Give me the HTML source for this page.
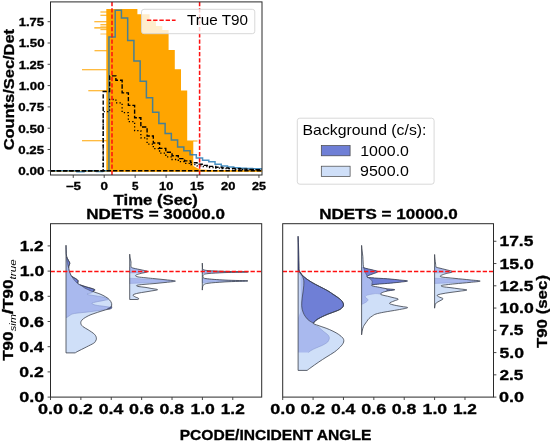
<!DOCTYPE html>
<html><head><meta charset="utf-8"><title>chart</title>
<style>html,body{margin:0;padding:0;background:#fff;}svg{display:block;will-change:transform;}text{font-family:"Liberation Sans",sans-serif;}</style>
</head><body>
<svg width="550" height="443" viewBox="0 0 550 443" font-family="Liberation Sans, sans-serif">
<rect width="550" height="443" fill="#fff"/>
<clipPath id="ctop"><rect x="50.5" y="1.9" width="211.5" height="173.1"/></clipPath>
<g clip-path="url(#ctop)">
<line x1="100.4" y1="12" x2="107" y2="12" stroke="#ffa500" stroke-width="1.1" opacity="1"/>
<line x1="100.4" y1="15.2" x2="107" y2="15.2" stroke="#ffa500" stroke-width="1.1" opacity="1"/>
<line x1="94.3" y1="21.8" x2="107" y2="21.8" stroke="#ffa500" stroke-width="1.1" opacity="1"/>
<line x1="100.4" y1="24.6" x2="107" y2="24.6" stroke="#ffa500" stroke-width="1.1" opacity="0.8"/>
<line x1="100.4" y1="26.2" x2="107" y2="26.2" stroke="#ffa500" stroke-width="1.1" opacity="0.6"/>
<line x1="94.3" y1="27.9" x2="107" y2="27.9" stroke="#ffa500" stroke-width="1.1" opacity="1"/>
<line x1="100.4" y1="29.6" x2="107" y2="29.6" stroke="#ffa500" stroke-width="1.1" opacity="0.8"/>
<line x1="100.4" y1="34" x2="107" y2="34" stroke="#ffa500" stroke-width="1.1" opacity="0.6"/>
<line x1="94.5" y1="50.8" x2="107" y2="50.8" stroke="#ffa500" stroke-width="1.1" opacity="1"/>
<line x1="82" y1="69.8" x2="107" y2="69.8" stroke="#ffa500" stroke-width="1.1" opacity="1"/>
<line x1="88.3" y1="90.8" x2="107" y2="90.8" stroke="#ffa500" stroke-width="1.1" opacity="1"/>
<line x1="82" y1="140.8" x2="107" y2="140.8" stroke="#ffa500" stroke-width="1.1" opacity="1"/>
<polygon fill="#ffa500" points="106.3,170.8 106.3,9.0 137.4,9.0 137.4,14.2 149.6,14.2 149.6,20.4 156.0,20.4 156.0,26.0 162.3,26.0 162.3,30.0 168.6,30.0 168.6,50.0 174.8,50.0 174.8,69.2 181.0,69.2 181.0,90.5 187.2,90.5 187.2,140.6 193.3,140.6 193.3,166.0 200.0,169.6 215.0,170.2 262.0,170.4 262.0,171.4 106.3,171.4"/>
<line x1="193" y1="141" x2="197.5" y2="141" stroke="#ffa500" stroke-width="1"/>
<line x1="50.5" y1="171.10000000000002" x2="262.0" y2="171.10000000000002" stroke="#ffa500" stroke-width="1.2"/>
<path d="M50.5,170.8 L77,170.8 L77,171.7 L84,171.7 L84,170.8 L96.5,170.8 L96.5,171.5 L102.6,171.5 L102.6,170.8 L108.95,170.8 L108.95,37.1 L115.19,37.1 L115.19,10.2 L121.43,10.2 L121.43,18.1 L127.67,18.1 L127.67,40.4 L133.91,40.4 L133.91,60.9 L140.15,60.9 L140.15,81.3 L146.39,81.3 L146.39,97.7 L152.63,97.7 L152.63,112.3 L158.87,112.3 L158.87,123.4 L165.11,123.4 L165.11,133.4 L171.35,133.4 L171.35,140 L177.59,140 L177.59,147.1 L183.83,147.1 L183.83,150.7 L190.07,150.7 L190.07,154.7 L196.31,154.7 L196.31,158 L202.55,158 L202.55,160.2 L208.79,160.2 L208.79,161.8 L215.03,161.8 L215.03,164.2 L221.27,164.2 L221.27,166 L227.51,166 L227.51,167 L233.75,167 L233.75,167.8 L239.99,167.8 L239.99,168.3 L246.23,168.3 L246.23,168.6 L252.47,168.6 L252.47,168.7 L258.71,168.7 L258.71,168.7 L264.95,168.7" fill="none" stroke="#1f77b4" stroke-opacity="0.82" stroke-width="1.5" stroke-linejoin="miter"/>
<path d="M50.5,170.8 L103.2,170.8 L103.20,91.5 L109.65,91.5 L109.65,75.9 L115.89,75.9 L115.89,80.3 L122.13,80.3 L122.13,92.9 L128.37,92.9 L128.37,105.4 L134.61,105.4 L134.61,117.7 L140.85,117.7 L140.85,127 L147.09,127 L147.09,136 L153.33,136 L153.33,143 L159.57,143 L159.57,148.4 L165.81,148.4 L165.81,152.3 L172.05,152.3 L172.05,155.8 L178.29,155.8 L178.29,158.6 L184.53,158.6 L184.53,160.9 L190.77,160.9 L190.77,162.7 L197.01,162.7 L197.01,164.2 L203.25,164.2 L203.25,165.4 L209.49,165.4 L209.49,166.4 L215.73,166.4 L215.73,167.2 L221.97,167.2 L221.97,167.9 L228.21,167.9 L228.21,168.4 L234.45,168.4 L234.45,168.8 L240.69,168.8 L240.69,169.1 L246.93,169.1 L246.93,169.4 L253.17,169.4 L253.17,169.6 L259.41,169.6 L259.41,169.8 L265.65,169.8" fill="none" stroke="#000" stroke-width="1.4" stroke-dasharray="4.35,1.9" />
<path d="M103.2,170.8 L103.20,111.7 L109.65,111.7 L109.65,99.5 L115.89,99.5 L115.89,102.9 L122.13,102.9 L122.13,112.6 L128.37,112.6 L128.37,121.7 L134.61,121.7 L134.61,130.7 L140.85,130.7 L140.85,137.9 L147.09,137.9 L147.09,144.2 L153.33,144.2 L153.33,148.7 L159.57,148.7 L159.57,153.2 L165.81,153.2 L165.81,156.9 L172.05,156.9 L172.05,159.5 L178.29,159.5 L178.29,161.6 L184.53,161.6 L184.53,163.3 L190.77,163.3 L190.77,164.7 L197.01,164.7 L197.01,165.8 L203.25,165.8 L203.25,166.7 L209.49,166.7 L209.49,167.5 L215.73,167.5 L215.73,168.1 L221.97,168.1 L221.97,168.5 L228.21,168.5 L228.21,168.9 L234.45,168.9 L234.45,169.3 L240.69,169.3 L240.69,169.5 L246.93,169.5 L246.93,169.87 L253.17,169.87 L253.17,169.9 L259.41,169.9 L259.41,170 L265.65,170" fill="none" stroke="#000" stroke-width="1.3" stroke-dasharray="1.3,2.2" />
<line x1="50.5" y1="170.8" x2="262.0" y2="170.8" stroke="#000" stroke-width="1.4" stroke-dasharray="4.35,1.9"/>
<line x1="112.0" y1="1.9" x2="112.0" y2="175.0" stroke="#ff1010" stroke-width="1.55" stroke-dasharray="4.35,1.9"/>
<line x1="199.6" y1="1.9" x2="199.6" y2="175.0" stroke="#ff1010" stroke-width="1.55" stroke-dasharray="4.35,1.9"/>
</g>
<rect x="141.5" y="9.3" width="113.3" height="24.4" rx="2.5" fill="#fff" fill-opacity="0.8" stroke="#d4d4d4" stroke-width="0.9"/>
<line x1="146.9" y1="20.3" x2="175.6" y2="20.3" stroke="#ff1010" stroke-width="1.4" stroke-dasharray="4.35,1.9"/>
<text x="186.92" y="24.90" font-size="14.1" fill="#000" textLength="61.05" lengthAdjust="spacingAndGlyphs">True T90</text>
<rect x="50.5" y="1.9" width="211.5" height="173.1" fill="none" stroke="#2a2a2a" stroke-width="1"/>
<line x1="73.25" y1="175.0" x2="73.25" y2="177.9" stroke="#333" stroke-width="0.9"/>
<text x="65.66" y="189.50" font-size="10.6" font-weight="bold" stroke="#000" stroke-width="0.3" fill="#000" textLength="15.33" lengthAdjust="spacingAndGlyphs">−5</text>
<line x1="104.20" y1="175.0" x2="104.20" y2="177.9" stroke="#333" stroke-width="0.9"/>
<text x="100.48" y="189.50" font-size="10.6" font-weight="bold" stroke="#000" stroke-width="0.3" fill="#000" textLength="7.45" lengthAdjust="spacingAndGlyphs">0</text>
<line x1="135.15" y1="175.0" x2="135.15" y2="177.9" stroke="#333" stroke-width="0.9"/>
<text x="131.90" y="189.50" font-size="10.6" font-weight="bold" stroke="#000" stroke-width="0.3" fill="#000" textLength="6.52" lengthAdjust="spacingAndGlyphs">5</text>
<line x1="166.10" y1="175.0" x2="166.10" y2="177.9" stroke="#333" stroke-width="0.9"/>
<text x="159.11" y="189.50" font-size="10.6" font-weight="bold" stroke="#000" stroke-width="0.3" fill="#000" textLength="14.39" lengthAdjust="spacingAndGlyphs">10</text>
<line x1="197.05" y1="175.0" x2="197.05" y2="177.9" stroke="#333" stroke-width="0.9"/>
<text x="190.08" y="189.50" font-size="10.6" font-weight="bold" stroke="#000" stroke-width="0.3" fill="#000" textLength="13.96" lengthAdjust="spacingAndGlyphs">15</text>
<line x1="228.00" y1="175.0" x2="228.00" y2="177.9" stroke="#333" stroke-width="0.9"/>
<text x="221.02" y="189.50" font-size="10.6" font-weight="bold" stroke="#000" stroke-width="0.3" fill="#000" textLength="14.38" lengthAdjust="spacingAndGlyphs">20</text>
<line x1="258.95" y1="175.0" x2="258.95" y2="177.9" stroke="#333" stroke-width="0.9"/>
<text x="251.98" y="189.50" font-size="10.6" font-weight="bold" stroke="#000" stroke-width="0.3" fill="#000" textLength="13.96" lengthAdjust="spacingAndGlyphs">25</text>
<line x1="47.6" y1="170.80" x2="50.5" y2="170.80" stroke="#333" stroke-width="0.9"/>
<text x="18.31" y="175.10" font-size="10.6" font-weight="bold" stroke="#000" stroke-width="0.3" fill="#000" textLength="26.25" lengthAdjust="spacingAndGlyphs">0.00</text>
<line x1="47.6" y1="149.50" x2="50.5" y2="149.50" stroke="#333" stroke-width="0.9"/>
<text x="18.32" y="153.80" font-size="10.6" font-weight="bold" stroke="#000" stroke-width="0.3" fill="#000" textLength="25.82" lengthAdjust="spacingAndGlyphs">0.25</text>
<line x1="47.6" y1="128.20" x2="50.5" y2="128.20" stroke="#333" stroke-width="0.9"/>
<text x="18.31" y="132.50" font-size="10.6" font-weight="bold" stroke="#000" stroke-width="0.3" fill="#000" textLength="26.25" lengthAdjust="spacingAndGlyphs">0.50</text>
<line x1="47.6" y1="106.90" x2="50.5" y2="106.90" stroke="#333" stroke-width="0.9"/>
<text x="18.32" y="111.20" font-size="10.6" font-weight="bold" stroke="#000" stroke-width="0.3" fill="#000" textLength="25.82" lengthAdjust="spacingAndGlyphs">0.75</text>
<line x1="47.6" y1="85.60" x2="50.5" y2="85.60" stroke="#333" stroke-width="0.9"/>
<text x="18.71" y="89.90" font-size="10.6" font-weight="bold" stroke="#000" stroke-width="0.3" fill="#000" textLength="25.84" lengthAdjust="spacingAndGlyphs">1.00</text>
<line x1="47.6" y1="64.30" x2="50.5" y2="64.30" stroke="#333" stroke-width="0.9"/>
<text x="18.72" y="68.60" font-size="10.6" font-weight="bold" stroke="#000" stroke-width="0.3" fill="#000" textLength="25.41" lengthAdjust="spacingAndGlyphs">1.25</text>
<line x1="47.6" y1="43.00" x2="50.5" y2="43.00" stroke="#333" stroke-width="0.9"/>
<text x="18.71" y="47.30" font-size="10.6" font-weight="bold" stroke="#000" stroke-width="0.3" fill="#000" textLength="25.84" lengthAdjust="spacingAndGlyphs">1.50</text>
<line x1="47.6" y1="21.70" x2="50.5" y2="21.70" stroke="#333" stroke-width="0.9"/>
<text x="18.72" y="26.00" font-size="10.6" font-weight="bold" stroke="#000" stroke-width="0.3" fill="#000" textLength="25.41" lengthAdjust="spacingAndGlyphs">1.75</text>
<text x="113.57" y="204.60" font-size="14.1" font-weight="bold" stroke="#000" stroke-width="0.3" fill="#000" textLength="84.37" lengthAdjust="spacingAndGlyphs">Time (Sec)</text>
<text x="-60.77" y="0.00" font-size="14.1" font-weight="bold" stroke="#000" stroke-width="0.3" fill="#000" textLength="121.46" lengthAdjust="spacingAndGlyphs" transform="translate(13.70 89.60) rotate(-90)">Counts/Sec/Det</text>
<rect x="297.3" y="118.2" width="136.8" height="66" rx="2.5" fill="#fff" stroke="#d4d4d4" stroke-width="0.9"/>
<text x="302.57" y="134.70" font-size="14.1" fill="#000" textLength="123.90" lengthAdjust="spacingAndGlyphs">Background (c/s):</text>
<rect x="321.3" y="145.6" width="28.8" height="10.2" fill="#6f7fd6" stroke="#444" stroke-width="0.7"/>
<rect x="321.3" y="166.2" width="28.8" height="10.2" fill="#cfdff8" stroke="#444" stroke-width="0.7"/>
<text x="360.26" y="155.80" font-size="14.1" fill="#000" textLength="48.66" lengthAdjust="spacingAndGlyphs">1000.0</text>
<text x="360.02" y="176.40" font-size="14.1" fill="#000" textLength="48.90" lengthAdjust="spacingAndGlyphs">9500.0</text>
<clipPath id="cl"><rect x="50.5" y="223.7" width="211.2" height="173.40000000000003"/></clipPath>
<g clip-path="url(#cl)">
<path d="M66.00,245.20 C66.04,246.24 66.09,249.04 66.20,251.00 C66.31,252.96 66.17,254.35 66.60,256.10 C67.03,257.85 68.01,259.42 68.60,260.70 C69.19,261.98 69.83,262.21 69.87,263.20 C69.91,264.19 68.94,264.92 68.80,266.20 C68.66,267.48 68.85,269.00 69.10,270.30 C69.35,271.60 69.73,272.30 70.20,273.40 C70.67,274.50 70.80,275.50 71.70,276.40 C72.60,277.30 74.08,277.66 75.20,278.40 C76.32,279.14 77.47,279.67 77.90,280.50 C78.33,281.33 77.17,282.19 77.60,283.00 C78.03,283.81 78.72,284.28 80.30,285.00 C81.88,285.72 84.02,286.26 86.40,287.00 C88.78,287.74 92.02,288.54 93.50,289.10 C94.98,289.66 94.69,289.69 94.60,290.10 C94.51,290.51 92.03,290.70 93.00,291.40 C93.97,292.10 97.73,293.03 100.00,294.00 C102.27,294.97 103.89,295.76 105.60,296.80 C107.31,297.84 108.42,298.61 109.50,299.80 C110.58,300.99 111.28,302.19 111.60,303.40 C111.92,304.61 111.68,305.56 111.30,306.50 C110.92,307.44 110.81,307.92 109.50,308.60 C108.19,309.28 106.12,309.63 104.00,310.30 C101.88,310.97 100.04,311.53 97.70,312.30 C95.36,313.07 93.14,313.72 91.00,314.60 C88.86,315.48 87.42,316.23 85.80,317.20 C84.18,318.17 82.90,318.92 82.00,320.00 C81.10,321.08 80.66,322.03 80.80,323.20 C80.94,324.37 81.47,325.31 82.80,326.50 C84.13,327.69 86.09,328.40 88.20,329.80 C90.31,331.20 93.02,332.79 94.50,334.30 C95.98,335.81 96.20,336.99 96.40,338.20 C96.60,339.41 96.09,340.10 95.60,341.00 C95.11,341.90 95.32,342.14 93.70,343.20 C92.08,344.26 89.59,345.37 86.60,346.90 C83.61,348.43 79.13,350.62 77.10,351.70 C75.07,352.78 75.62,352.68 75.30,352.90 L66.0,352.90 L66.0,245.20 Z" fill="#cfdff8"/>
<path d="M66.00,246.00 C66.04,247.08 66.11,249.93 66.20,252.00 C66.29,254.07 66.30,255.70 66.50,257.50 C66.70,259.30 66.99,260.47 67.30,262.00 C67.61,263.53 67.88,264.51 68.20,266.00 C68.52,267.49 68.74,268.97 69.10,270.30 C69.46,271.63 69.73,272.30 70.20,273.40 C70.67,274.50 71.02,275.28 71.70,276.40 C72.38,277.52 73.01,278.41 74.00,279.60 C74.99,280.79 76.07,282.03 77.20,283.00 C78.33,283.97 78.90,284.10 80.30,285.00 C81.70,285.90 83.25,287.05 85.00,288.00 C86.75,288.95 88.56,289.65 90.00,290.30 C91.44,290.95 92.82,291.11 93.00,291.60 C93.18,292.09 92.08,292.53 91.00,293.00 C89.92,293.47 86.82,293.79 87.00,294.20 C87.18,294.61 89.66,294.89 92.00,295.30 C94.34,295.71 97.66,296.07 100.00,296.50 C102.34,296.93 103.51,297.20 105.00,297.70 C106.49,298.20 108.48,298.81 108.30,299.30 C108.12,299.79 106.39,299.88 104.00,300.40 C101.61,300.92 97.16,301.62 95.00,302.20 C92.84,302.78 91.82,303.06 92.00,303.60 C92.18,304.14 93.84,304.71 96.00,305.20 C98.16,305.69 101.39,305.90 104.00,306.30 C106.61,306.70 109.28,307.04 110.50,307.40 C111.72,307.76 111.97,307.87 110.80,308.30 C109.63,308.73 106.66,309.33 104.00,309.80 C101.34,310.27 98.88,310.50 96.00,310.90 C93.12,311.30 90.88,311.66 88.00,312.00 C85.12,312.34 82.70,312.48 80.00,312.80 C77.30,313.12 74.80,313.35 73.00,313.80 C71.20,314.25 70.99,314.72 70.00,315.30 C69.01,315.88 68.22,316.59 67.50,317.00 C66.78,317.41 66.27,317.49 66.00,317.60 L66.0,317.60 L66.0,246.00 Z" fill="#a9b9ee"/>
<path d="M66.00,246.00 C66.04,247.08 66.11,249.93 66.20,252.00 C66.29,254.07 66.30,255.70 66.50,257.50 C66.70,259.30 66.99,260.47 67.30,262.00 C67.61,263.53 67.88,264.51 68.20,266.00 C68.52,267.49 68.74,268.97 69.10,270.30 C69.46,271.63 69.73,272.30 70.20,273.40 C70.67,274.50 71.02,275.28 71.70,276.40 C72.38,277.52 73.01,278.41 74.00,279.60 C74.99,280.79 76.07,282.03 77.20,283.00 C78.33,283.97 78.90,284.10 80.30,285.00 C81.70,285.90 83.25,287.05 85.00,288.00 C86.75,288.95 88.56,289.65 90.00,290.30 C91.44,290.95 92.82,291.11 93.00,291.60 C93.18,292.09 92.08,292.53 91.00,293.00 C89.92,293.47 86.82,293.79 87.00,294.20 C87.18,294.61 89.66,294.89 92.00,295.30 C94.34,295.71 97.66,296.07 100.00,296.50 C102.34,296.93 103.51,297.20 105.00,297.70 C106.49,298.20 108.48,298.81 108.30,299.30 C108.12,299.79 106.39,299.88 104.00,300.40 C101.61,300.92 97.16,301.62 95.00,302.20 C92.84,302.78 91.82,303.06 92.00,303.60 C92.18,304.14 93.84,304.71 96.00,305.20 C98.16,305.69 101.39,305.90 104.00,306.30 C106.61,306.70 109.28,307.04 110.50,307.40 C111.72,307.76 111.97,307.87 110.80,308.30 C109.63,308.73 106.66,309.33 104.00,309.80 C101.34,310.27 98.88,310.50 96.00,310.90 C93.12,311.30 90.88,311.66 88.00,312.00 C85.12,312.34 82.70,312.48 80.00,312.80 C77.30,313.12 74.80,313.35 73.00,313.80 C71.20,314.25 70.99,314.72 70.00,315.30 C69.01,315.88 68.22,316.59 67.50,317.00 C66.78,317.41 66.27,317.49 66.00,317.60" fill="none" stroke="#7f8fc8" stroke-width="0.5" stroke-linejoin="round"/>
<path d="M66.50,257.00 C66.88,257.63 68.01,259.38 68.60,260.50 C69.19,261.62 69.75,262.17 69.80,263.20 C69.85,264.23 69.13,265.43 68.90,266.20 C68.67,266.97 68.77,268.17 68.50,267.50 C68.23,266.83 67.60,263.40 67.40,262.50 Z" fill="#6f7fd6" stroke="#3a3f4a" stroke-width="0.5" stroke-linejoin="round"/>
<path d="M71.70,276.20 C72.33,276.56 74.05,277.43 75.20,278.20 C76.35,278.97 77.67,279.60 78.10,280.50 C78.53,281.40 78.34,283.33 77.60,283.20 C76.86,283.07 74.65,280.41 74.00,279.80 Z" fill="#6f7fd6" stroke="#3a3f4a" stroke-width="0.5" stroke-linejoin="round"/>
<path d="M80.30,284.80 C81.40,285.16 84.02,286.06 86.40,286.80 C88.78,287.54 91.97,288.31 93.50,288.90 C95.03,289.49 94.99,289.61 94.90,290.10 C94.81,290.59 93.88,291.53 93.00,291.60 C92.12,291.67 91.44,291.11 90.00,290.50 C88.56,289.89 85.90,288.61 85.00,288.20 Z" fill="#6f7fd6" stroke="#3a3f4a" stroke-width="0.5" stroke-linejoin="round"/>
<path d="M107.50,308.80 C108.22,308.37 110.80,306.45 111.50,306.40 C112.20,306.35 111.80,308.00 111.40,308.50 C111.00,309.00 109.68,309.07 109.30,309.20 Z" fill="#6f7fd6" stroke="#3a3f4a" stroke-width="0.5" stroke-linejoin="round"/>
<path d="M66.00,245.20 C66.04,246.24 66.09,249.04 66.20,251.00 C66.31,252.96 66.17,254.35 66.60,256.10 C67.03,257.85 68.01,259.42 68.60,260.70 C69.19,261.98 69.83,262.21 69.87,263.20 C69.91,264.19 68.94,264.92 68.80,266.20 C68.66,267.48 68.85,269.00 69.10,270.30 C69.35,271.60 69.73,272.30 70.20,273.40 C70.67,274.50 70.80,275.50 71.70,276.40 C72.60,277.30 74.08,277.66 75.20,278.40 C76.32,279.14 77.47,279.67 77.90,280.50 C78.33,281.33 77.17,282.19 77.60,283.00 C78.03,283.81 78.72,284.28 80.30,285.00 C81.88,285.72 84.02,286.26 86.40,287.00 C88.78,287.74 92.02,288.54 93.50,289.10 C94.98,289.66 94.69,289.69 94.60,290.10 C94.51,290.51 92.03,290.70 93.00,291.40 C93.97,292.10 97.73,293.03 100.00,294.00 C102.27,294.97 103.89,295.76 105.60,296.80 C107.31,297.84 108.42,298.61 109.50,299.80 C110.58,300.99 111.28,302.19 111.60,303.40 C111.92,304.61 111.68,305.56 111.30,306.50 C110.92,307.44 110.81,307.92 109.50,308.60 C108.19,309.28 106.12,309.63 104.00,310.30 C101.88,310.97 100.04,311.53 97.70,312.30 C95.36,313.07 93.14,313.72 91.00,314.60 C88.86,315.48 87.42,316.23 85.80,317.20 C84.18,318.17 82.90,318.92 82.00,320.00 C81.10,321.08 80.66,322.03 80.80,323.20 C80.94,324.37 81.47,325.31 82.80,326.50 C84.13,327.69 86.09,328.40 88.20,329.80 C90.31,331.20 93.02,332.79 94.50,334.30 C95.98,335.81 96.20,336.99 96.40,338.20 C96.60,339.41 96.09,340.10 95.60,341.00 C95.11,341.90 95.32,342.14 93.70,343.20 C92.08,344.26 89.59,345.37 86.60,346.90 C83.61,348.43 79.13,350.62 77.10,351.70 C75.07,352.78 75.62,352.68 75.30,352.90 L66.0,352.9 L66.0,245.2" fill="none" stroke="#3a3f4a" stroke-width="0.8"/>
<path d="M129.70,254.20 C129.77,254.88 129.87,256.60 130.10,258.00 C130.33,259.40 130.86,260.74 131.00,262.00 C131.14,263.26 130.85,264.06 130.90,265.00 C130.95,265.94 130.74,266.61 131.30,267.20 C131.86,267.79 132.25,267.83 134.00,268.30 C135.75,268.77 138.50,269.21 141.00,269.80 C143.50,270.39 147.90,270.95 147.90,271.60 C147.90,272.25 142.96,272.86 141.00,273.40 C139.04,273.94 137.97,274.17 137.00,274.60 C136.03,275.03 135.42,275.39 135.60,275.80 C135.78,276.21 136.13,276.54 138.00,276.90 C139.87,277.26 142.94,277.48 146.00,277.80 C149.06,278.12 151.40,278.34 155.00,278.70 C158.60,279.06 162.33,279.37 166.00,279.80 C169.67,280.23 175.40,280.63 175.40,281.10 C175.40,281.57 169.67,281.97 166.00,282.40 C162.33,282.83 158.78,283.16 155.00,283.50 C151.22,283.84 147.97,284.03 145.00,284.30 C142.03,284.57 140.01,284.73 138.50,285.00 C136.99,285.27 136.51,285.51 136.60,285.80 C136.69,286.09 137.49,286.33 139.00,286.60 C140.51,286.87 142.84,286.98 145.00,287.30 C147.16,287.62 148.73,287.97 151.00,288.40 C153.27,288.83 157.60,289.23 157.60,289.70 C157.60,290.17 153.27,290.59 151.00,291.00 C148.73,291.41 147.34,291.60 145.00,292.00 C142.66,292.40 140.12,292.70 138.00,293.20 C135.88,293.70 133.83,294.21 133.20,294.80 C132.57,295.39 133.51,295.83 134.50,296.50 C135.49,297.17 138.11,297.96 138.70,298.50 C139.29,299.04 137.96,299.32 137.80,299.50 L129.7,299.50 L129.7,254.20 Z" fill="#cfdff8"/>
<clipPath id="vc1"><path d="M129.70,254.20 C129.77,254.88 129.87,256.60 130.10,258.00 C130.33,259.40 130.86,260.74 131.00,262.00 C131.14,263.26 130.85,264.06 130.90,265.00 C130.95,265.94 130.74,266.61 131.30,267.20 C131.86,267.79 132.25,267.83 134.00,268.30 C135.75,268.77 138.50,269.21 141.00,269.80 C143.50,270.39 147.90,270.95 147.90,271.60 C147.90,272.25 142.96,272.86 141.00,273.40 C139.04,273.94 137.97,274.17 137.00,274.60 C136.03,275.03 135.42,275.39 135.60,275.80 C135.78,276.21 136.13,276.54 138.00,276.90 C139.87,277.26 142.94,277.48 146.00,277.80 C149.06,278.12 151.40,278.34 155.00,278.70 C158.60,279.06 162.33,279.37 166.00,279.80 C169.67,280.23 175.40,280.63 175.40,281.10 C175.40,281.57 169.67,281.97 166.00,282.40 C162.33,282.83 158.78,283.16 155.00,283.50 C151.22,283.84 147.97,284.03 145.00,284.30 C142.03,284.57 140.01,284.73 138.50,285.00 C136.99,285.27 136.51,285.51 136.60,285.80 C136.69,286.09 137.49,286.33 139.00,286.60 C140.51,286.87 142.84,286.98 145.00,287.30 C147.16,287.62 148.73,287.97 151.00,288.40 C153.27,288.83 157.60,289.23 157.60,289.70 C157.60,290.17 153.27,290.59 151.00,291.00 C148.73,291.41 147.34,291.60 145.00,292.00 C142.66,292.40 140.12,292.70 138.00,293.20 C135.88,293.70 133.83,294.21 133.20,294.80 C132.57,295.39 133.51,295.83 134.50,296.50 C135.49,297.17 138.11,297.96 138.70,298.50 C139.29,299.04 137.96,299.32 137.80,299.50 L129.7,299.50 L129.7,254.20 Z"/></clipPath>
<g clip-path="url(#vc1)">
<path d="M128.7,267.4 L189.7,268.59999999999997 L189.7,271.7 L128.7,272.9 Z" fill="#a9b9ee" stroke="#8c9bd6" stroke-width="0.5"/>
<path d="M128.7,278.2 L176,280.6 L176,281.6 L128.7,283.5 Z" fill="#a9b9ee" stroke="#8c9bd6" stroke-width="0.5"/>
</g>
<path d="M129.70,254.20 C129.77,254.88 129.87,256.60 130.10,258.00 C130.33,259.40 130.86,260.74 131.00,262.00 C131.14,263.26 130.85,264.06 130.90,265.00 C130.95,265.94 130.74,266.61 131.30,267.20 C131.86,267.79 132.25,267.83 134.00,268.30 C135.75,268.77 138.50,269.21 141.00,269.80 C143.50,270.39 147.90,270.95 147.90,271.60 C147.90,272.25 142.96,272.86 141.00,273.40 C139.04,273.94 137.97,274.17 137.00,274.60 C136.03,275.03 135.42,275.39 135.60,275.80 C135.78,276.21 136.13,276.54 138.00,276.90 C139.87,277.26 142.94,277.48 146.00,277.80 C149.06,278.12 151.40,278.34 155.00,278.70 C158.60,279.06 162.33,279.37 166.00,279.80 C169.67,280.23 175.40,280.63 175.40,281.10 C175.40,281.57 169.67,281.97 166.00,282.40 C162.33,282.83 158.78,283.16 155.00,283.50 C151.22,283.84 147.97,284.03 145.00,284.30 C142.03,284.57 140.01,284.73 138.50,285.00 C136.99,285.27 136.51,285.51 136.60,285.80 C136.69,286.09 137.49,286.33 139.00,286.60 C140.51,286.87 142.84,286.98 145.00,287.30 C147.16,287.62 148.73,287.97 151.00,288.40 C153.27,288.83 157.60,289.23 157.60,289.70 C157.60,290.17 153.27,290.59 151.00,291.00 C148.73,291.41 147.34,291.60 145.00,292.00 C142.66,292.40 140.12,292.70 138.00,293.20 C135.88,293.70 133.83,294.21 133.20,294.80 C132.57,295.39 133.51,295.83 134.50,296.50 C135.49,297.17 138.11,297.96 138.70,298.50 C139.29,299.04 137.96,299.32 137.80,299.50 L129.7,299.5 L129.7,254.2" fill="none" stroke="#3a3f4a" stroke-width="0.8"/>
<path d="M202.30,263.10 C202.34,263.80 202.37,265.90 202.50,267.00 C202.63,268.10 202.01,268.55 203.00,269.20 C203.99,269.85 204.04,270.20 208.00,270.60 C211.96,271.00 217.75,271.17 225.00,271.40 C232.25,271.63 248.30,271.68 248.30,271.90 C248.30,272.12 232.25,272.29 225.00,272.60 C217.75,272.91 211.89,273.17 208.00,273.60 C204.11,274.03 204.26,274.39 203.40,275.00 C202.54,275.61 202.73,276.35 203.20,277.00 C203.67,277.65 202.08,278.04 206.00,278.60 C209.92,279.16 217.44,279.69 225.00,280.10 C232.56,280.51 248.00,280.58 248.00,280.90 C248.00,281.22 232.20,281.47 225.00,281.90 C217.80,282.33 211.85,282.74 208.00,283.30 C204.15,283.86 204.57,284.33 203.60,285.00 C202.63,285.67 202.83,286.08 202.60,287.00 C202.37,287.92 202.35,289.54 202.30,290.10 L202.3,290.10 L202.3,263.10 Z" fill="#cfdff8"/>
<path d="M202.30,269.60 C203.33,269.82 203.91,270.46 208.00,270.80 C212.09,271.14 217.89,271.30 225.00,271.50 C232.11,271.70 247.50,271.74 247.50,271.90 C247.50,272.06 232.11,272.20 225.00,272.40 C217.89,272.60 212.09,272.78 208.00,273.00 C203.91,273.22 203.33,273.49 202.30,273.60 L202.3,273.6 L202.3,269.6 Z" fill="#a9b9ee" stroke="#7f8fc8" stroke-width="0.4"/>
<path d="M202.30,278.40 C203.33,278.54 203.91,278.88 208.00,279.20 C212.09,279.52 217.98,279.89 225.00,280.20 C232.02,280.51 247.00,280.67 247.00,280.90 C247.00,281.13 232.02,281.27 225.00,281.50 C217.98,281.73 212.09,281.97 208.00,282.20 C203.91,282.43 203.33,282.69 202.30,282.80 L202.3,282.8 L202.3,278.4 Z" fill="#a9b9ee" stroke="#7f8fc8" stroke-width="0.4"/>
<path d="M202.30,263.10 C202.34,263.80 202.37,265.90 202.50,267.00 C202.63,268.10 202.01,268.55 203.00,269.20 C203.99,269.85 204.04,270.20 208.00,270.60 C211.96,271.00 217.75,271.17 225.00,271.40 C232.25,271.63 248.30,271.68 248.30,271.90 C248.30,272.12 232.25,272.29 225.00,272.60 C217.75,272.91 211.89,273.17 208.00,273.60 C204.11,274.03 204.26,274.39 203.40,275.00 C202.54,275.61 202.73,276.35 203.20,277.00 C203.67,277.65 202.08,278.04 206.00,278.60 C209.92,279.16 217.44,279.69 225.00,280.10 C232.56,280.51 248.00,280.58 248.00,280.90 C248.00,281.22 232.20,281.47 225.00,281.90 C217.80,282.33 211.85,282.74 208.00,283.30 C204.15,283.86 204.57,284.33 203.60,285.00 C202.63,285.67 202.83,286.08 202.60,287.00 C202.37,287.92 202.35,289.54 202.30,290.10 L202.3,290.1 L202.3,263.1" fill="none" stroke="#3a3f4a" stroke-width="0.8"/>
<line x1="50.5" y1="271.4" x2="261.7" y2="271.4" stroke="#ff1010" stroke-width="1.55" stroke-dasharray="4.35,1.9"/>
</g>
<rect x="50.5" y="223.7" width="211.2" height="173.40000000000003" fill="none" stroke="#2a2a2a" stroke-width="1"/>
<text x="86.27" y="218.60" font-size="14.1" font-weight="bold" stroke="#000" stroke-width="0.3" fill="#000" textLength="138.62" lengthAdjust="spacingAndGlyphs">NDETS = 30000.0</text>
<line x1="50.50" y1="397.1" x2="50.50" y2="400.0" stroke="#333" stroke-width="0.9"/>
<text x="37.96" y="413.60" font-size="14.1" font-weight="bold" stroke="#000" stroke-width="0.3" fill="#000" textLength="25.06" lengthAdjust="spacingAndGlyphs">0.0</text>
<line x1="80.88" y1="397.1" x2="80.88" y2="400.0" stroke="#333" stroke-width="0.9"/>
<text x="68.36" y="413.60" font-size="14.1" font-weight="bold" stroke="#000" stroke-width="0.3" fill="#000" textLength="24.50" lengthAdjust="spacingAndGlyphs">0.2</text>
<line x1="111.26" y1="397.1" x2="111.26" y2="400.0" stroke="#333" stroke-width="0.9"/>
<text x="98.74" y="413.60" font-size="14.1" font-weight="bold" stroke="#000" stroke-width="0.3" fill="#000" textLength="24.45" lengthAdjust="spacingAndGlyphs">0.4</text>
<line x1="141.64" y1="397.1" x2="141.64" y2="400.0" stroke="#333" stroke-width="0.9"/>
<text x="129.10" y="413.60" font-size="14.1" font-weight="bold" stroke="#000" stroke-width="0.3" fill="#000" textLength="24.89" lengthAdjust="spacingAndGlyphs">0.6</text>
<line x1="172.02" y1="397.1" x2="172.02" y2="400.0" stroke="#333" stroke-width="0.9"/>
<text x="159.49" y="413.60" font-size="14.1" font-weight="bold" stroke="#000" stroke-width="0.3" fill="#000" textLength="24.65" lengthAdjust="spacingAndGlyphs">0.8</text>
<line x1="202.40" y1="397.1" x2="202.40" y2="400.0" stroke="#333" stroke-width="0.9"/>
<text x="190.40" y="413.60" font-size="14.1" font-weight="bold" stroke="#000" stroke-width="0.3" fill="#000" textLength="24.51" lengthAdjust="spacingAndGlyphs">1.0</text>
<line x1="232.78" y1="397.1" x2="232.78" y2="400.0" stroke="#333" stroke-width="0.9"/>
<text x="220.80" y="413.60" font-size="14.1" font-weight="bold" stroke="#000" stroke-width="0.3" fill="#000" textLength="23.94" lengthAdjust="spacingAndGlyphs">1.2</text>
<line x1="47.6" y1="397.10" x2="50.5" y2="397.10" stroke="#333" stroke-width="0.9"/>
<text x="19.17" y="402.10" font-size="14.1" font-weight="bold" stroke="#000" stroke-width="0.3" fill="#000" textLength="25.06" lengthAdjust="spacingAndGlyphs">0.0</text>
<line x1="47.6" y1="371.90" x2="50.5" y2="371.90" stroke="#333" stroke-width="0.9"/>
<text x="19.19" y="376.90" font-size="14.1" font-weight="bold" stroke="#000" stroke-width="0.3" fill="#000" textLength="24.50" lengthAdjust="spacingAndGlyphs">0.2</text>
<line x1="47.6" y1="346.70" x2="50.5" y2="346.70" stroke="#333" stroke-width="0.9"/>
<text x="19.19" y="351.70" font-size="14.1" font-weight="bold" stroke="#000" stroke-width="0.3" fill="#000" textLength="24.45" lengthAdjust="spacingAndGlyphs">0.4</text>
<line x1="47.6" y1="321.50" x2="50.5" y2="321.50" stroke="#333" stroke-width="0.9"/>
<text x="19.18" y="326.50" font-size="14.1" font-weight="bold" stroke="#000" stroke-width="0.3" fill="#000" textLength="24.89" lengthAdjust="spacingAndGlyphs">0.6</text>
<line x1="47.6" y1="296.30" x2="50.5" y2="296.30" stroke="#333" stroke-width="0.9"/>
<text x="19.18" y="301.30" font-size="14.1" font-weight="bold" stroke="#000" stroke-width="0.3" fill="#000" textLength="24.65" lengthAdjust="spacingAndGlyphs">0.8</text>
<line x1="47.6" y1="271.10" x2="50.5" y2="271.10" stroke="#333" stroke-width="0.9"/>
<text x="19.71" y="276.10" font-size="14.1" font-weight="bold" stroke="#000" stroke-width="0.3" fill="#000" textLength="24.51" lengthAdjust="spacingAndGlyphs">1.0</text>
<line x1="47.6" y1="245.90" x2="50.5" y2="245.90" stroke="#333" stroke-width="0.9"/>
<text x="19.73" y="250.90" font-size="14.1" font-weight="bold" stroke="#000" stroke-width="0.3" fill="#000" textLength="23.94" lengthAdjust="spacingAndGlyphs">1.2</text>
<clipPath id="cr"><rect x="282.7" y="223.7" width="210.8" height="173.40000000000003"/></clipPath>
<g clip-path="url(#cr)">
<path d="M298.10,236.30 C298.17,237.87 298.37,241.63 298.50,245.00 C298.63,248.37 298.71,251.40 298.80,255.00 C298.89,258.60 298.86,262.12 299.00,265.00 C299.14,267.88 298.84,269.00 299.60,271.00 C300.36,273.00 300.99,274.05 303.20,276.10 C305.41,278.15 307.63,279.84 311.90,282.40 C316.17,284.96 323.10,288.16 326.90,290.30 C330.70,292.44 330.86,292.88 333.00,294.30 C335.14,295.72 337.13,296.90 338.80,298.20 C340.47,299.50 341.45,300.28 342.30,301.50 C343.15,302.72 343.55,303.87 343.50,305.00 C343.45,306.13 342.85,306.90 342.00,307.80 C341.15,308.70 340.78,309.06 338.80,310.00 C336.82,310.94 333.57,311.99 331.00,313.00 C328.43,314.01 327.02,314.43 324.50,315.60 C321.98,316.77 318.98,318.13 317.00,319.50 C315.02,320.87 313.32,322.14 313.50,323.20 C313.68,324.26 315.73,324.50 318.00,325.40 C320.27,326.30 323.40,327.16 326.10,328.20 C328.80,329.24 330.71,330.07 333.00,331.20 C335.29,332.33 337.04,333.28 338.80,334.50 C340.56,335.72 341.90,336.87 342.80,338.00 C343.70,339.13 343.76,339.81 343.80,340.80 C343.84,341.79 343.63,342.40 343.00,343.50 C342.37,344.60 341.81,345.39 340.30,346.90 C338.79,348.41 337.17,350.03 334.60,351.90 C332.03,353.77 328.84,355.48 326.00,357.30 C323.16,359.12 321.50,360.16 318.80,362.00 C316.10,363.84 313.11,365.99 311.00,367.50 C308.89,369.01 307.80,369.88 307.10,370.40 L298.1,370.40 L298.1,236.30 Z" fill="#cfdff8"/>
<path d="M298.10,271.00 C298.44,271.18 299.08,271.08 300.00,272.00 C300.92,272.92 301.06,274.23 303.20,276.10 C305.34,277.97 307.63,279.84 311.90,282.40 C316.17,284.96 322.06,287.46 326.90,290.30 C331.74,293.14 335.81,295.55 338.80,298.20 C341.79,300.85 343.50,302.88 343.50,305.00 C343.50,307.12 342.22,308.09 338.80,310.00 C335.38,311.91 329.05,313.22 324.50,315.60 C319.95,317.98 314.58,321.15 313.50,323.20 C312.42,325.25 316.79,325.60 318.50,327.00 C320.21,328.40 321.38,329.65 323.00,331.00 C324.62,332.35 326.37,333.35 327.50,334.50 C328.63,335.65 329.07,336.41 329.30,337.40 C329.53,338.39 329.21,339.06 328.80,340.00 C328.39,340.94 328.22,341.61 327.00,342.60 C325.78,343.59 323.98,344.53 322.00,345.50 C320.02,346.47 317.98,347.10 316.00,348.00 C314.02,348.90 312.35,349.69 311.00,350.50 C309.65,351.31 308.95,352.14 308.50,352.50 L298.1,352.50 L298.1,271.00 Z" fill="#a9b9ee"/>
<path d="M298.10,271.00 C298.44,271.18 299.08,271.08 300.00,272.00 C300.92,272.92 301.06,274.23 303.20,276.10 C305.34,277.97 307.63,279.84 311.90,282.40 C316.17,284.96 322.06,287.46 326.90,290.30 C331.74,293.14 335.81,295.55 338.80,298.20 C341.79,300.85 343.50,302.88 343.50,305.00 C343.50,307.12 342.22,308.09 338.80,310.00 C335.38,311.91 329.05,313.22 324.50,315.60 C319.95,317.98 314.58,321.15 313.50,323.20 C312.42,325.25 316.79,325.60 318.50,327.00 C320.21,328.40 321.38,329.65 323.00,331.00 C324.62,332.35 326.37,333.35 327.50,334.50 C328.63,335.65 329.07,336.41 329.30,337.40 C329.53,338.39 329.21,339.06 328.80,340.00 C328.39,340.94 328.22,341.61 327.00,342.60 C325.78,343.59 323.98,344.53 322.00,345.50 C320.02,346.47 317.98,347.10 316.00,348.00 C314.02,348.90 312.35,349.69 311.00,350.50 C309.65,351.31 308.95,352.14 308.50,352.50" fill="none" stroke="#7f8fc8" stroke-width="0.5" stroke-linejoin="round"/>
<path d="M298.1,273 L300.6,276 L300.9,300 L300.4,312 L298.1,318 Z" fill="#cfdff8" opacity="0.8"/>
<path d="M298.60,271.00 C298.94,271.27 299.67,271.58 300.50,272.50 C301.33,273.42 301.15,274.32 303.20,276.10 C305.25,277.88 307.63,279.84 311.90,282.40 C316.17,284.96 323.10,288.16 326.90,290.30 C330.70,292.44 330.86,292.88 333.00,294.30 C335.14,295.72 337.13,296.90 338.80,298.20 C340.47,299.50 341.45,300.28 342.30,301.50 C343.15,302.72 343.55,303.87 343.50,305.00 C343.45,306.13 342.85,306.90 342.00,307.80 C341.15,308.70 340.78,309.06 338.80,310.00 C336.82,310.94 333.57,311.99 331.00,313.00 C328.43,314.01 327.02,314.43 324.50,315.60 C321.98,316.77 318.98,318.13 317.00,319.50 C315.02,320.87 314.13,322.53 313.50,323.20 L313.50,323.20 C312.69,322.71 310.42,321.63 309.00,320.50 C307.58,319.37 306.68,318.43 305.60,316.90 C304.52,315.37 303.70,314.00 303.00,312.00 C302.30,310.00 301.84,308.32 301.70,305.80 C301.56,303.28 301.91,300.84 302.20,298.00 C302.49,295.16 302.99,292.88 303.30,290.00 C303.61,287.12 304.04,284.43 303.90,282.00 C303.76,279.57 303.45,278.48 302.50,276.50 C301.55,274.52 299.30,271.99 298.60,271.00 Z" fill="#6f7fd6" stroke="#3a3f4a" stroke-width="0.7" stroke-linejoin="round"/>
<path d="M298.10,236.30 C298.17,237.87 298.37,241.63 298.50,245.00 C298.63,248.37 298.71,251.40 298.80,255.00 C298.89,258.60 298.86,262.12 299.00,265.00 C299.14,267.88 298.84,269.00 299.60,271.00 C300.36,273.00 300.99,274.05 303.20,276.10 C305.41,278.15 307.63,279.84 311.90,282.40 C316.17,284.96 323.10,288.16 326.90,290.30 C330.70,292.44 330.86,292.88 333.00,294.30 C335.14,295.72 337.13,296.90 338.80,298.20 C340.47,299.50 341.45,300.28 342.30,301.50 C343.15,302.72 343.55,303.87 343.50,305.00 C343.45,306.13 342.85,306.90 342.00,307.80 C341.15,308.70 340.78,309.06 338.80,310.00 C336.82,310.94 333.57,311.99 331.00,313.00 C328.43,314.01 327.02,314.43 324.50,315.60 C321.98,316.77 318.98,318.13 317.00,319.50 C315.02,320.87 313.32,322.14 313.50,323.20 C313.68,324.26 315.73,324.50 318.00,325.40 C320.27,326.30 323.40,327.16 326.10,328.20 C328.80,329.24 330.71,330.07 333.00,331.20 C335.29,332.33 337.04,333.28 338.80,334.50 C340.56,335.72 341.90,336.87 342.80,338.00 C343.70,339.13 343.76,339.81 343.80,340.80 C343.84,341.79 343.63,342.40 343.00,343.50 C342.37,344.60 341.81,345.39 340.30,346.90 C338.79,348.41 337.17,350.03 334.60,351.90 C332.03,353.77 328.84,355.48 326.00,357.30 C323.16,359.12 321.50,360.16 318.80,362.00 C316.10,363.84 313.11,365.99 311.00,367.50 C308.89,369.01 307.80,369.88 307.10,370.40 L298.1,370.4 L298.1,236.3" fill="none" stroke="#3a3f4a" stroke-width="0.8"/>
<path d="M298.1,236.3 L298.5,255 L299,270 L298.1,271 Z" fill="#30386a" stroke="#30386a" stroke-width="0.3"/>
<path d="M361.60,245.40 C361.67,246.23 361.78,248.04 362.00,250.00 C362.22,251.96 362.60,254.14 362.80,256.30 C363.00,258.46 362.99,260.24 363.10,262.00 C363.21,263.76 363.20,265.06 363.40,266.10 C363.60,267.14 363.34,267.30 364.20,267.80 C365.06,268.30 366.56,268.49 368.20,268.90 C369.84,269.31 371.55,269.60 373.30,270.10 C375.05,270.60 377.90,271.05 377.90,271.70 C377.90,272.35 375.05,272.98 373.30,273.70 C371.55,274.42 369.30,275.09 368.20,275.70 C367.10,276.31 366.64,276.72 367.20,277.10 C367.76,277.48 367.65,277.49 371.30,277.80 C374.95,278.11 382.37,278.40 387.50,278.80 C392.63,279.20 396.20,279.60 399.80,280.00 C403.40,280.40 407.50,280.60 407.50,281.00 C407.50,281.40 403.40,281.77 399.80,282.20 C396.20,282.63 391.53,283.04 387.50,283.40 C383.47,283.76 380.14,283.93 377.40,284.20 C374.66,284.47 373.18,284.59 372.30,284.90 C371.42,285.21 371.22,285.47 372.50,285.90 C373.78,286.33 376.88,286.80 379.40,287.30 C381.92,287.80 383.73,288.27 386.50,288.70 C389.27,289.13 394.62,289.29 394.80,289.70 C394.98,290.11 389.71,290.50 387.50,291.00 C385.29,291.50 383.74,291.94 382.50,292.50 C381.26,293.06 380.51,293.61 380.60,294.10 C380.69,294.59 381.76,294.82 383.00,295.20 C384.24,295.58 385.70,295.77 387.50,296.20 C389.30,296.63 391.06,297.08 393.00,297.60 C394.94,298.12 398.12,298.49 398.30,299.10 C398.48,299.71 395.58,300.26 394.00,301.00 C392.42,301.74 389.68,302.52 389.50,303.20 C389.32,303.88 390.93,304.22 393.00,304.80 C395.07,305.38 398.37,305.88 401.00,306.40 C403.63,306.92 408.14,307.09 407.60,307.70 C407.06,308.31 402.27,308.99 398.00,309.80 C393.73,310.61 387.86,311.44 383.90,312.20 C379.94,312.96 378.03,313.35 376.00,314.00 C373.97,314.65 373.86,314.99 372.60,315.80 C371.34,316.61 370.03,317.51 369.00,318.50 C367.97,319.49 367.62,320.31 366.90,321.30 C366.18,322.29 365.61,323.06 365.00,324.00 C364.39,324.94 363.97,325.42 363.50,326.50 C363.03,327.58 362.74,328.51 362.40,330.00 C362.06,331.49 361.74,333.94 361.60,334.80 L361.6,334.80 L361.6,245.40 Z" fill="#cfdff8"/>
<clipPath id="vc2"><path d="M361.60,245.40 C361.67,246.23 361.78,248.04 362.00,250.00 C362.22,251.96 362.60,254.14 362.80,256.30 C363.00,258.46 362.99,260.24 363.10,262.00 C363.21,263.76 363.20,265.06 363.40,266.10 C363.60,267.14 363.34,267.30 364.20,267.80 C365.06,268.30 366.56,268.49 368.20,268.90 C369.84,269.31 371.55,269.60 373.30,270.10 C375.05,270.60 377.90,271.05 377.90,271.70 C377.90,272.35 375.05,272.98 373.30,273.70 C371.55,274.42 369.30,275.09 368.20,275.70 C367.10,276.31 366.64,276.72 367.20,277.10 C367.76,277.48 367.65,277.49 371.30,277.80 C374.95,278.11 382.37,278.40 387.50,278.80 C392.63,279.20 396.20,279.60 399.80,280.00 C403.40,280.40 407.50,280.60 407.50,281.00 C407.50,281.40 403.40,281.77 399.80,282.20 C396.20,282.63 391.53,283.04 387.50,283.40 C383.47,283.76 380.14,283.93 377.40,284.20 C374.66,284.47 373.18,284.59 372.30,284.90 C371.42,285.21 371.22,285.47 372.50,285.90 C373.78,286.33 376.88,286.80 379.40,287.30 C381.92,287.80 383.73,288.27 386.50,288.70 C389.27,289.13 394.62,289.29 394.80,289.70 C394.98,290.11 389.71,290.50 387.50,291.00 C385.29,291.50 383.74,291.94 382.50,292.50 C381.26,293.06 380.51,293.61 380.60,294.10 C380.69,294.59 381.76,294.82 383.00,295.20 C384.24,295.58 385.70,295.77 387.50,296.20 C389.30,296.63 391.06,297.08 393.00,297.60 C394.94,298.12 398.12,298.49 398.30,299.10 C398.48,299.71 395.58,300.26 394.00,301.00 C392.42,301.74 389.68,302.52 389.50,303.20 C389.32,303.88 390.93,304.22 393.00,304.80 C395.07,305.38 398.37,305.88 401.00,306.40 C403.63,306.92 408.14,307.09 407.60,307.70 C407.06,308.31 402.27,308.99 398.00,309.80 C393.73,310.61 387.86,311.44 383.90,312.20 C379.94,312.96 378.03,313.35 376.00,314.00 C373.97,314.65 373.86,314.99 372.60,315.80 C371.34,316.61 370.03,317.51 369.00,318.50 C367.97,319.49 367.62,320.31 366.90,321.30 C366.18,322.29 365.61,323.06 365.00,324.00 C364.39,324.94 363.97,325.42 363.50,326.50 C363.03,327.58 362.74,328.51 362.40,330.00 C362.06,331.49 361.74,333.94 361.60,334.80 L361.6,334.80 L361.6,245.40 Z"/></clipPath>
<g clip-path="url(#vc2)">
<path d="M360.6,267.5 L420,267.5 L420,294.1 L380.60,294.10 C379.77,294.01 377.49,293.60 376.00,293.60 C374.51,293.60 373.88,293.83 372.30,294.10 C370.72,294.37 368.48,294.56 367.20,295.10 C365.92,295.64 365.11,296.36 365.20,297.10 C365.29,297.84 367.34,298.46 367.70,299.20 C368.06,299.94 368.03,300.37 367.20,301.20 C366.37,302.03 364.29,303.19 363.10,303.80 C361.91,304.41 361.05,304.46 360.60,304.60 Z" fill="#a9b9ee" stroke="#8c9bd6" stroke-width="0.5"/>
<path d="M420,277.1 L367.20,277.10 C367.11,276.76 367.08,276.08 366.70,275.20 C366.32,274.32 365.55,273.23 365.10,272.20 C364.65,271.17 364.51,270.40 364.20,269.50 C363.89,268.60 363.54,267.61 363.40,267.20 L420,267.2 Z" fill="#6f7fd6" stroke="#3a3f4a" stroke-width="0.5"/>
<path d="M420,284.9 L372.20,284.90 C372.13,284.72 371.78,284.44 371.80,283.90 C371.82,283.36 372.50,282.73 372.30,281.90 C372.10,281.07 371.58,280.16 370.70,279.30 C369.82,278.44 367.99,277.50 367.40,277.10 L420,277.1 Z" fill="#6f7fd6" stroke="#3a3f4a" stroke-width="0.5"/>
<path d="M420,291.2 L386.50,291.20 C386.70,290.98 387.73,290.50 387.60,290.00 C387.47,289.50 386.12,288.69 385.80,288.40 L420,288.4 Z" fill="#6f7fd6" stroke="#3a3f4a" stroke-width="0.5"/>
</g>
<path d="M361.60,245.40 C361.67,246.23 361.78,248.04 362.00,250.00 C362.22,251.96 362.60,254.14 362.80,256.30 C363.00,258.46 362.99,260.24 363.10,262.00 C363.21,263.76 363.20,265.06 363.40,266.10 C363.60,267.14 363.34,267.30 364.20,267.80 C365.06,268.30 366.56,268.49 368.20,268.90 C369.84,269.31 371.55,269.60 373.30,270.10 C375.05,270.60 377.90,271.05 377.90,271.70 C377.90,272.35 375.05,272.98 373.30,273.70 C371.55,274.42 369.30,275.09 368.20,275.70 C367.10,276.31 366.64,276.72 367.20,277.10 C367.76,277.48 367.65,277.49 371.30,277.80 C374.95,278.11 382.37,278.40 387.50,278.80 C392.63,279.20 396.20,279.60 399.80,280.00 C403.40,280.40 407.50,280.60 407.50,281.00 C407.50,281.40 403.40,281.77 399.80,282.20 C396.20,282.63 391.53,283.04 387.50,283.40 C383.47,283.76 380.14,283.93 377.40,284.20 C374.66,284.47 373.18,284.59 372.30,284.90 C371.42,285.21 371.22,285.47 372.50,285.90 C373.78,286.33 376.88,286.80 379.40,287.30 C381.92,287.80 383.73,288.27 386.50,288.70 C389.27,289.13 394.62,289.29 394.80,289.70 C394.98,290.11 389.71,290.50 387.50,291.00 C385.29,291.50 383.74,291.94 382.50,292.50 C381.26,293.06 380.51,293.61 380.60,294.10 C380.69,294.59 381.76,294.82 383.00,295.20 C384.24,295.58 385.70,295.77 387.50,296.20 C389.30,296.63 391.06,297.08 393.00,297.60 C394.94,298.12 398.12,298.49 398.30,299.10 C398.48,299.71 395.58,300.26 394.00,301.00 C392.42,301.74 389.68,302.52 389.50,303.20 C389.32,303.88 390.93,304.22 393.00,304.80 C395.07,305.38 398.37,305.88 401.00,306.40 C403.63,306.92 408.14,307.09 407.60,307.70 C407.06,308.31 402.27,308.99 398.00,309.80 C393.73,310.61 387.86,311.44 383.90,312.20 C379.94,312.96 378.03,313.35 376.00,314.00 C373.97,314.65 373.86,314.99 372.60,315.80 C371.34,316.61 370.03,317.51 369.00,318.50 C367.97,319.49 367.62,320.31 366.90,321.30 C366.18,322.29 365.61,323.06 365.00,324.00 C364.39,324.94 363.97,325.42 363.50,326.50 C363.03,327.58 362.74,328.51 362.40,330.00 C362.06,331.49 361.74,333.94 361.60,334.80 L361.6,334.8 L361.6,245.4" fill="none" stroke="#3a3f4a" stroke-width="0.8"/>
<path d="M434.60,254.50 C434.65,255.31 434.72,257.29 434.90,259.00 C435.08,260.71 435.44,262.74 435.60,264.00 C435.76,265.26 435.67,265.42 435.80,266.00 C435.93,266.58 435.54,266.80 436.30,267.20 C437.06,267.60 438.25,267.75 440.00,268.20 C441.75,268.65 443.73,269.07 446.00,269.70 C448.27,270.33 452.60,271.00 452.60,271.70 C452.60,272.40 447.91,273.01 446.00,273.60 C444.09,274.19 443.04,274.51 442.00,275.00 C440.96,275.49 440.02,275.90 440.20,276.30 C440.38,276.70 441.42,276.93 443.00,277.20 C444.58,277.47 446.84,277.58 449.00,277.80 C451.16,278.02 451.22,278.02 455.00,278.40 C458.78,278.78 465.46,279.41 470.00,279.90 C474.54,280.39 480.20,280.65 480.20,281.10 C480.20,281.55 474.54,281.91 470.00,282.40 C465.46,282.89 459.14,283.39 455.00,283.80 C450.86,284.21 449.25,284.43 447.00,284.70 C444.75,284.97 443.54,285.07 442.50,285.30 C441.46,285.53 441.02,285.73 441.20,286.00 C441.38,286.27 441.92,286.51 443.50,286.80 C445.08,287.09 447.21,287.24 450.00,287.60 C452.79,287.96 455.96,288.37 459.00,288.80 C462.04,289.23 466.90,289.55 466.90,290.00 C466.90,290.45 462.04,290.85 459.00,291.30 C455.96,291.75 453.06,292.05 450.00,292.50 C446.94,292.95 444.29,293.31 442.00,293.80 C439.71,294.29 437.88,294.66 437.30,295.20 C436.72,295.74 437.77,296.17 438.80,296.80 C439.83,297.43 442.78,297.98 443.00,298.70 C443.22,299.42 441.22,300.03 440.00,300.80 C438.78,301.57 437.10,302.15 436.20,303.00 C435.30,303.85 435.29,304.56 435.00,305.50 C434.71,306.44 434.67,307.71 434.60,308.20 L434.6,308.20 L434.6,254.50 Z" fill="#cfdff8"/>
<clipPath id="vc3"><path d="M434.60,254.50 C434.65,255.31 434.72,257.29 434.90,259.00 C435.08,260.71 435.44,262.74 435.60,264.00 C435.76,265.26 435.67,265.42 435.80,266.00 C435.93,266.58 435.54,266.80 436.30,267.20 C437.06,267.60 438.25,267.75 440.00,268.20 C441.75,268.65 443.73,269.07 446.00,269.70 C448.27,270.33 452.60,271.00 452.60,271.70 C452.60,272.40 447.91,273.01 446.00,273.60 C444.09,274.19 443.04,274.51 442.00,275.00 C440.96,275.49 440.02,275.90 440.20,276.30 C440.38,276.70 441.42,276.93 443.00,277.20 C444.58,277.47 446.84,277.58 449.00,277.80 C451.16,278.02 451.22,278.02 455.00,278.40 C458.78,278.78 465.46,279.41 470.00,279.90 C474.54,280.39 480.20,280.65 480.20,281.10 C480.20,281.55 474.54,281.91 470.00,282.40 C465.46,282.89 459.14,283.39 455.00,283.80 C450.86,284.21 449.25,284.43 447.00,284.70 C444.75,284.97 443.54,285.07 442.50,285.30 C441.46,285.53 441.02,285.73 441.20,286.00 C441.38,286.27 441.92,286.51 443.50,286.80 C445.08,287.09 447.21,287.24 450.00,287.60 C452.79,287.96 455.96,288.37 459.00,288.80 C462.04,289.23 466.90,289.55 466.90,290.00 C466.90,290.45 462.04,290.85 459.00,291.30 C455.96,291.75 453.06,292.05 450.00,292.50 C446.94,292.95 444.29,293.31 442.00,293.80 C439.71,294.29 437.88,294.66 437.30,295.20 C436.72,295.74 437.77,296.17 438.80,296.80 C439.83,297.43 442.78,297.98 443.00,298.70 C443.22,299.42 441.22,300.03 440.00,300.80 C438.78,301.57 437.10,302.15 436.20,303.00 C435.30,303.85 435.29,304.56 435.00,305.50 C434.71,306.44 434.67,307.71 434.60,308.20 L434.6,308.20 L434.6,254.50 Z"/></clipPath>
<g clip-path="url(#vc3)">
<path d="M433.6,267.2 L494.6,268.4 L494.6,271.6 L433.6,272.8 Z" fill="#a9b9ee" stroke="#8c9bd6" stroke-width="0.5"/>
<path d="M433.6,278.2 L481,280.6 L481,281.6 L433.6,283.5 Z" fill="#a9b9ee" stroke="#8c9bd6" stroke-width="0.5"/>
</g>
<path d="M434.60,254.50 C434.65,255.31 434.72,257.29 434.90,259.00 C435.08,260.71 435.44,262.74 435.60,264.00 C435.76,265.26 435.67,265.42 435.80,266.00 C435.93,266.58 435.54,266.80 436.30,267.20 C437.06,267.60 438.25,267.75 440.00,268.20 C441.75,268.65 443.73,269.07 446.00,269.70 C448.27,270.33 452.60,271.00 452.60,271.70 C452.60,272.40 447.91,273.01 446.00,273.60 C444.09,274.19 443.04,274.51 442.00,275.00 C440.96,275.49 440.02,275.90 440.20,276.30 C440.38,276.70 441.42,276.93 443.00,277.20 C444.58,277.47 446.84,277.58 449.00,277.80 C451.16,278.02 451.22,278.02 455.00,278.40 C458.78,278.78 465.46,279.41 470.00,279.90 C474.54,280.39 480.20,280.65 480.20,281.10 C480.20,281.55 474.54,281.91 470.00,282.40 C465.46,282.89 459.14,283.39 455.00,283.80 C450.86,284.21 449.25,284.43 447.00,284.70 C444.75,284.97 443.54,285.07 442.50,285.30 C441.46,285.53 441.02,285.73 441.20,286.00 C441.38,286.27 441.92,286.51 443.50,286.80 C445.08,287.09 447.21,287.24 450.00,287.60 C452.79,287.96 455.96,288.37 459.00,288.80 C462.04,289.23 466.90,289.55 466.90,290.00 C466.90,290.45 462.04,290.85 459.00,291.30 C455.96,291.75 453.06,292.05 450.00,292.50 C446.94,292.95 444.29,293.31 442.00,293.80 C439.71,294.29 437.88,294.66 437.30,295.20 C436.72,295.74 437.77,296.17 438.80,296.80 C439.83,297.43 442.78,297.98 443.00,298.70 C443.22,299.42 441.22,300.03 440.00,300.80 C438.78,301.57 437.10,302.15 436.20,303.00 C435.30,303.85 435.29,304.56 435.00,305.50 C434.71,306.44 434.67,307.71 434.60,308.20 L434.6,308.2 L434.6,254.5" fill="none" stroke="#3a3f4a" stroke-width="0.8"/>
<line x1="282.7" y1="271.4" x2="493.5" y2="271.4" stroke="#ff1010" stroke-width="1.55" stroke-dasharray="4.35,1.9"/>
</g>
<rect x="282.7" y="223.7" width="210.8" height="173.40000000000003" fill="none" stroke="#2a2a2a" stroke-width="1"/>
<text x="319.17" y="218.60" font-size="14.1" font-weight="bold" stroke="#000" stroke-width="0.3" fill="#000" textLength="138.62" lengthAdjust="spacingAndGlyphs">NDETS = 10000.0</text>
<line x1="282.70" y1="397.1" x2="282.70" y2="400.0" stroke="#333" stroke-width="0.9"/>
<text x="270.16" y="413.60" font-size="14.1" font-weight="bold" stroke="#000" stroke-width="0.3" fill="#000" textLength="25.06" lengthAdjust="spacingAndGlyphs">0.0</text>
<line x1="313.08" y1="397.1" x2="313.08" y2="400.0" stroke="#333" stroke-width="0.9"/>
<text x="300.56" y="413.60" font-size="14.1" font-weight="bold" stroke="#000" stroke-width="0.3" fill="#000" textLength="24.50" lengthAdjust="spacingAndGlyphs">0.2</text>
<line x1="343.46" y1="397.1" x2="343.46" y2="400.0" stroke="#333" stroke-width="0.9"/>
<text x="330.94" y="413.60" font-size="14.1" font-weight="bold" stroke="#000" stroke-width="0.3" fill="#000" textLength="24.45" lengthAdjust="spacingAndGlyphs">0.4</text>
<line x1="373.84" y1="397.1" x2="373.84" y2="400.0" stroke="#333" stroke-width="0.9"/>
<text x="361.30" y="413.60" font-size="14.1" font-weight="bold" stroke="#000" stroke-width="0.3" fill="#000" textLength="24.89" lengthAdjust="spacingAndGlyphs">0.6</text>
<line x1="404.22" y1="397.1" x2="404.22" y2="400.0" stroke="#333" stroke-width="0.9"/>
<text x="391.69" y="413.60" font-size="14.1" font-weight="bold" stroke="#000" stroke-width="0.3" fill="#000" textLength="24.65" lengthAdjust="spacingAndGlyphs">0.8</text>
<line x1="434.60" y1="397.1" x2="434.60" y2="400.0" stroke="#333" stroke-width="0.9"/>
<text x="422.60" y="413.60" font-size="14.1" font-weight="bold" stroke="#000" stroke-width="0.3" fill="#000" textLength="24.51" lengthAdjust="spacingAndGlyphs">1.0</text>
<line x1="464.98" y1="397.1" x2="464.98" y2="400.0" stroke="#333" stroke-width="0.9"/>
<text x="453.00" y="413.60" font-size="14.1" font-weight="bold" stroke="#000" stroke-width="0.3" fill="#000" textLength="23.94" lengthAdjust="spacingAndGlyphs">1.2</text>
<line x1="493.5" y1="397.10" x2="496.4" y2="397.10" stroke="#333" stroke-width="0.9"/>
<text x="498.95" y="402.20" font-size="14.1" font-weight="bold" stroke="#000" stroke-width="0.3" fill="#000" textLength="25.06" lengthAdjust="spacingAndGlyphs">0.0</text>
<line x1="493.5" y1="374.84" x2="496.4" y2="374.84" stroke="#333" stroke-width="0.9"/>
<text x="499.53" y="379.94" font-size="14.1" font-weight="bold" stroke="#000" stroke-width="0.3" fill="#000" textLength="23.92" lengthAdjust="spacingAndGlyphs">2.5</text>
<line x1="493.5" y1="352.58" x2="496.4" y2="352.58" stroke="#333" stroke-width="0.9"/>
<text x="499.52" y="357.68" font-size="14.1" font-weight="bold" stroke="#000" stroke-width="0.3" fill="#000" textLength="24.47" lengthAdjust="spacingAndGlyphs">5.0</text>
<line x1="493.5" y1="330.32" x2="496.4" y2="330.32" stroke="#333" stroke-width="0.9"/>
<text x="499.21" y="335.42" font-size="14.1" font-weight="bold" stroke="#000" stroke-width="0.3" fill="#000" textLength="24.24" lengthAdjust="spacingAndGlyphs">7.5</text>
<line x1="493.5" y1="308.06" x2="496.4" y2="308.06" stroke="#333" stroke-width="0.9"/>
<text x="499.48" y="313.16" font-size="14.1" font-weight="bold" stroke="#000" stroke-width="0.3" fill="#000" textLength="34.37" lengthAdjust="spacingAndGlyphs">10.0</text>
<line x1="493.5" y1="285.80" x2="496.4" y2="285.80" stroke="#333" stroke-width="0.9"/>
<text x="499.50" y="290.90" font-size="14.1" font-weight="bold" stroke="#000" stroke-width="0.3" fill="#000" textLength="33.81" lengthAdjust="spacingAndGlyphs">12.5</text>
<line x1="493.5" y1="263.54" x2="496.4" y2="263.54" stroke="#333" stroke-width="0.9"/>
<text x="499.48" y="268.64" font-size="14.1" font-weight="bold" stroke="#000" stroke-width="0.3" fill="#000" textLength="34.37" lengthAdjust="spacingAndGlyphs">15.0</text>
<line x1="493.5" y1="241.28" x2="496.4" y2="241.28" stroke="#333" stroke-width="0.9"/>
<text x="499.50" y="246.38" font-size="14.1" font-weight="bold" stroke="#000" stroke-width="0.3" fill="#000" textLength="33.81" lengthAdjust="spacingAndGlyphs">17.5</text>
<text x="-36.82" y="0.00" font-size="14.1" font-weight="bold" stroke="#000" stroke-width="0.3" fill="#000" textLength="73.11" lengthAdjust="spacingAndGlyphs" transform="translate(546.80 311.30) rotate(-90)">T90 (sec)</text>
<text x="179.67" y="439.80" font-size="14.1" font-weight="bold" stroke="#000" stroke-width="0.3" fill="#000" textLength="191.70" lengthAdjust="spacingAndGlyphs">PCODE/INCIDENT ANGLE</text>
<g transform="translate(13.4,310) rotate(-90)">
<text x="-50.83" y="0" font-size="14.1" font-weight="bold" stroke="#000" stroke-width="0.3" textLength="29.39" lengthAdjust="spacingAndGlyphs">T90</text>
<text x="-21.36" y="2.2" font-size="9.87" font-style="italic" textLength="17.23" lengthAdjust="spacingAndGlyphs">sim</text>
<text x="-4.15" y="0" font-size="14.1" font-weight="bold" stroke="#000" stroke-width="0.3" textLength="5.55" lengthAdjust="spacingAndGlyphs">/</text>
<text x="1.06" y="0" font-size="14.1" font-weight="bold" stroke="#000" stroke-width="0.3" textLength="29.39" lengthAdjust="spacingAndGlyphs">T90</text>
<text x="30.55" y="2.2" font-size="9.87" font-style="italic" textLength="20.11" lengthAdjust="spacingAndGlyphs">true</text>
</g>
</svg>
</body></html>
